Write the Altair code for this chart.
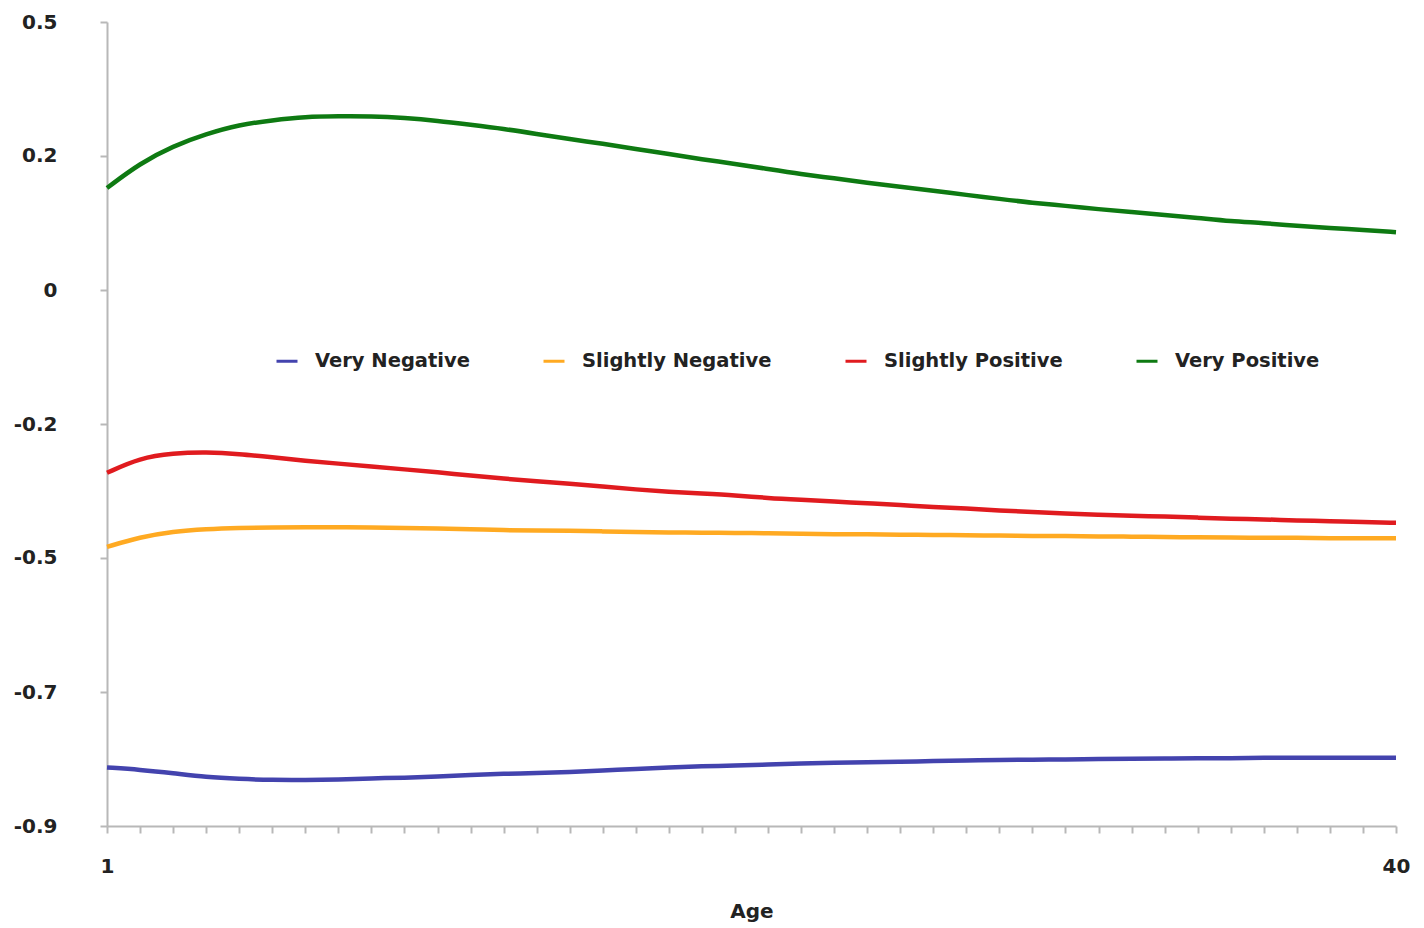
import altair as alt
import pandas as pd

ages = list(range(1, 41))

very_negative = [-0.798, -0.802, -0.808, -0.815, -0.818, -0.820, -0.820, -0.819, -0.817, -0.816,
                 -0.814, -0.811, -0.809, -0.808, -0.806, -0.803, -0.801, -0.798, -0.796, -0.795,
                 -0.793, -0.791, -0.790, -0.789, -0.788, -0.787, -0.786, -0.785, -0.7845, -0.784,
                 -0.7835, -0.783, -0.7825, -0.782, -0.782, -0.781, -0.781, -0.781, -0.781, -0.781]

slightly_negative = [-0.414, -0.397, -0.387, -0.383, -0.381, -0.380, -0.380, -0.380, -0.380, -0.381,
                     -0.382, -0.383, -0.385, -0.3854, -0.386, -0.387, -0.388, -0.389, -0.389, -0.390,
                     -0.390, -0.391, -0.392, -0.392, -0.393, -0.393, -0.394, -0.394, -0.395, -0.395,
                     -0.396, -0.396, -0.397, -0.397, -0.398, -0.398, -0.398, -0.399, -0.399, -0.399]

slightly_positive = [-0.285, -0.259, -0.251, -0.249, -0.252, -0.258, -0.264, -0.269, -0.274, -0.279,
                     -0.284, -0.290, -0.295, -0.300, -0.304, -0.309, -0.314, -0.318, -0.321, -0.324,
                     -0.329, -0.332, -0.335, -0.338, -0.341, -0.345, -0.347, -0.351, -0.353, -0.356,
                     -0.358, -0.360, -0.361, -0.363, -0.365, -0.366, -0.368, -0.369, -0.371, -0.372]

very_positive = [0.211, 0.254, 0.284, 0.305, 0.321, 0.329, 0.335, 0.336, 0.336, 0.333,
                 0.328, 0.321, 0.314, 0.305, 0.296, 0.288, 0.279, 0.270, 0.261, 0.253,
                 0.244, 0.235, 0.228, 0.220, 0.213, 0.206, 0.199, 0.192, 0.185, 0.180,
                 0.174, 0.169, 0.164, 0.159, 0.153, 0.150, 0.145, 0.141, 0.138, 0.134]

series_names = ["Very Negative", "Slightly Negative", "Slightly Positive", "Very Positive"]
series_values = [very_negative, slightly_negative, slightly_positive, very_positive]
series_colors = ["#4343AE", "#FFAA22", "#E01B1F", "#0E7A12"]

y_tick_labels = ["-0.9", "-0.7", "-0.5", "-0.2", "0", "0.2", "0.5"]
y_min, y_max = -0.9, 0.5
y_step = (y_max - y_min) / (len(y_tick_labels) - 1)
y_tick_values = [round(y_min + k * y_step, 6) for k in range(len(y_tick_labels))]

rows = []
for name, vals in zip(series_names, series_values):
    for a, v in zip(ages, vals):
        rows.append({"Age": a, "Value": v, "Series": name})
df = pd.DataFrame(rows)

label_array = "[" + ",".join(f"'{l}'" for l in y_tick_labels) + "]"
y_label_expr = f"{label_array}[round((datum.value - ({y_min})) / {y_step})]"

FONT = "DejaVu Sans"
TEXT = "#222222"
AXIS = "#b8b8b8"

chart = alt.Chart(df).mark_line(strokeWidth=4.5, interpolate="basis").encode(
    x=alt.X("Age:Q",
            scale=alt.Scale(domain=[1, 40], nice=False, zero=False),
            axis=alt.Axis(values=ages, labelExpr="datum.value == 1 || datum.value == 40 ? datum.label : ''",
                          title="Age", labelPadding=23, titlePadding=25, labelFlush=False)),
    y=alt.Y("Value:Q",
            scale=alt.Scale(domain=[y_min, y_max], nice=False, zero=False),
            axis=alt.Axis(values=y_tick_values, labelExpr=y_label_expr, title=None,
                          labelPadding=43)),
    color=alt.Color("Series:N",
                    scale=alt.Scale(domain=series_names, range=series_colors),
                    sort=series_names,
                    legend=alt.Legend(orient="none", legendX=168, legendY=327, direction="horizontal",
                                      title=None, symbolType="stroke", symbolSize=441,
                                      symbolStrokeWidth=3, labelOffset=16, columnPadding=67,
                                      labelFontSize=19.5, labelFont=FONT, labelFontWeight="bold",
                                      labelColor=TEXT, padding=0, labelLimit=400)),
).properties(
    width=1289, height=804,
    padding={"left": 5, "top": 4, "right": 5, "bottom": 5}
).configure_view(
    stroke=None
).configure_axis(
    grid=False,
    domainColor=AXIS, domainWidth=2,
    tickColor=AXIS, tickWidth=2, tickSize=7,
    labelFont=FONT, labelFontSize=20, labelFontWeight="bold", labelColor=TEXT,
    titleFont=FONT, titleFontSize=20, titleFontWeight="bold", titleColor=TEXT,
)

chart.save("out.html", embed_options={"renderer": "svg", "actions": False})
